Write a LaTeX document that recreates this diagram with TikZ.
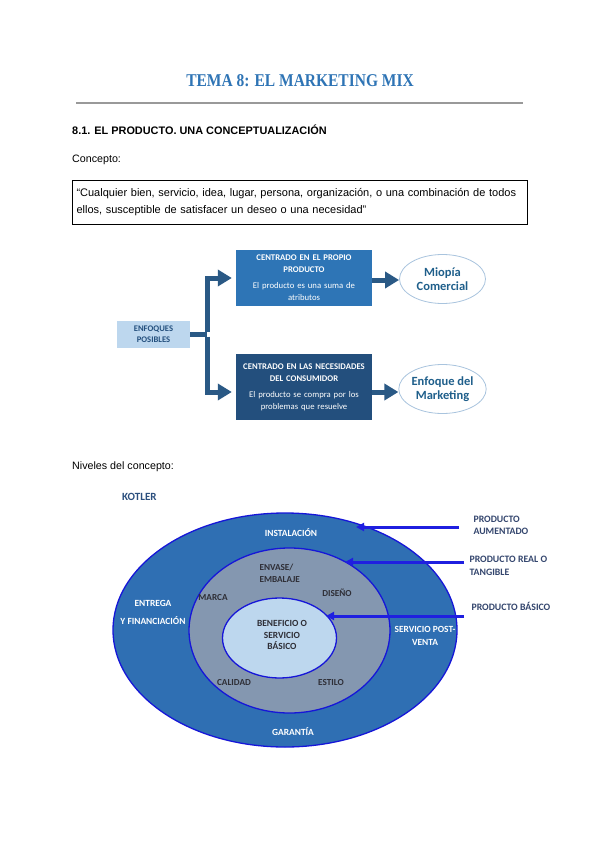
\documentclass[tikz,border=0pt]{standalone}
\usepackage{fontspec}
\setmainfont{Liberation Sans}
\newfontfamily\cfont{Carlito}
\newfontfamily\tfont{Liberation Serif}
\usetikzlibrary{arrows.meta,shapes.geometric}
\definecolor{titleblue}{HTML}{2E74B5}
\definecolor{paleblue}{HTML}{BDD7EE}
\definecolor{midblue}{HTML}{2E75B6}
\definecolor{deepblue}{HTML}{234F7D}
\definecolor{forkblue}{HTML}{2A5985}
\definecolor{elltext}{HTML}{1F5F8B}
\definecolor{ellline}{HTML}{A9C4DE}
\definecolor{outerfill}{HTML}{2F6FB3}
\definecolor{midfill}{HTML}{8497B0}
\definecolor{ringline}{HTML}{1616D8}
\definecolor{arrowblue}{HTML}{1F1FE0}
\definecolor{labtext}{HTML}{34466E}
\definecolor{innertext}{HTML}{2E2E36}
\definecolor{kotlerc}{HTML}{2B4F7E}
\begin{document}
\begin{tikzpicture}[x=1pt,y=-1pt,
  fbox/.style={minimum width=136pt, inner sep=1pt, text=white, align=center, text width=134pt,
    font=\cfont\fontsize{8.7}{12}\selectfont},
  oval/.style={ellipse, draw=ellline, line width=0.8pt, fill=white, minimum width=86pt, minimum height=49pt,
    inner sep=0pt, align=center, text=elltext, font=\cfont\bfseries\fontsize{12.5}{13.5}\selectfont},
  fork/.style={draw=forkblue, line width=5pt},
  forkarrow/.style={fork, -{Triangle[length=14pt,width=16pt]}, shorten >=4pt},
  ring/.style={ellipse, draw=ringline, line width=1.3pt, inner sep=0pt},
  wlab/.style={text=white, align=center, font=\cfont\bfseries\fontsize{9.4}{13}\selectfont},
  dlab/.style={text=innertext, align=center, font=\cfont\bfseries\fontsize{9.2}{12.5}\selectfont},
  rlab/.style={anchor=west, text=labtext, align=left, font=\cfont\bfseries\fontsize{9.8}{12.5}\selectfont},
  barrow/.style={draw=arrowblue, line width=3pt, -{Triangle[length=8pt,width=8pt]}}
]
\useasboundingbox (0,0) rectangle (600,848);
\fill[white] (0,0) rectangle (600,848);

% header
\node[text=titleblue, font=\tfont\bfseries\fontsize{18}{20}\selectfont] (title) at (300,81) {\scalebox{0.86}[1]{TEMA 8: EL MARKETING MIX}};
\draw[gray!80, line width=1.2pt] (76,103) -- (523,103);
\node[anchor=west, inner sep=0pt, font=\bfseries\fontsize{10.9}{12}\selectfont] (h81) at (72,130) {8.1. EL PRODUCTO. UNA CONCEPTUALIZACIÓN};
\node[anchor=west, inner sep=0pt, font=\fontsize{10.7}{12}\selectfont] (concepto) at (72,160) {Concepto:};
\node[draw, line width=1pt, anchor=north west, text width=447pt, inner xsep=4pt, inner ysep=4.5pt,
  minimum height=44pt, align=left, font=\fontsize{11}{17}\selectfont] (quote) at (72,180)
  {“Cualquier bien, servicio, idea, lugar, persona, organización, o una combinación de todos\\ellos, susceptible de satisfacer un deseo o una necesidad”};

% flowchart
\node[fill=paleblue, minimum width=73pt, minimum height=27pt, inner sep=0pt, align=center, text=deepblue,
  font=\cfont\bfseries\fontsize{8.6}{11}\selectfont] (enf) at (153.5,334) {ENFOQUES\\POSIBLES};
\node[fbox, fill=midblue, minimum height=56pt] (b1) at (304,278)
  {\textbf{CENTRADO EN EL PROPIO}\\\textbf{PRODUCTO}\\[4pt]El producto es una suma de\\atributos};
\node[fbox, fill=deepblue, minimum height=66pt] (b2) at (304,387)
  {\textbf{CENTRADO EN LAS NECESIDADES}\\\textbf{DEL CONSUMIDOR}\\[4pt]El producto se compra por los\\problemas que resuelve\\[2pt]};
\node[oval] (e1) at (442.5,279) {Miopía\\Comercial};
\node[oval] (e2) at (442.5,389) {Enfoque del\\Marketing};
\coordinate (fk) at (207,334);
\coordinate (b2w) at ([yshift=-5pt]b2.west);
\coordinate (b2e) at ([yshift=-5pt]b2.east);
\coordinate (b1e) at ([yshift=-2pt]b1.east);
\draw[fork] (enf.east) -- (fk);
\draw[forkarrow] ([yshift=2.5pt]fk) |- (b1.west);
\draw[forkarrow] ([yshift=-2.5pt]fk) |- (b2w);
\draw[draw=forkblue, line width=5pt, -{Triangle[length=14pt,width=16pt]}] (b1e) -- (e1.west |- b1e);
\draw[draw=forkblue, line width=5pt, -{Triangle[length=14pt,width=16pt]}] (b2e) -- (e2.west |- b2e);

% levels
\node[anchor=west, inner sep=0pt, font=\fontsize{10.7}{12}\selectfont] (niveles) at (72,467) {Niveles del concepto:};
\node[anchor=west, inner sep=0pt, text=kotlerc, font=\cfont\bfseries\fontsize{11}{12}\selectfont] (kotler) at (122,497) {KOTLER};

\node[ring, fill=outerfill, minimum width=344pt, minimum height=234pt] (outer) at (285,630) {};
\node[ring, fill=midfill, minimum width=201pt, minimum height=165pt] (mid) at (289.5,630.5) {};
\node[ring, fill=paleblue, minimum width=114pt, minimum height=80pt] (inner) at (279.5,638) {};

\node[wlab] (inst) at (291,533) {INSTALACIÓN};
\node[wlab] (entrega) at (153,612) {ENTREGA\\[5pt]Y FINANCIACIÓN};
\node[wlab] (post) at (425,636) {SERVICIO POST-\\VENTA};
\node[wlab] (gar) at (293,732) {GARANTÍA};
\node[dlab, align=left, anchor=west] (envase) at (256,573.5) {ENVASE/\\EMBALAJE};
\node[dlab] (marca) at (213,598) {MARCA};
\node[dlab] (diseno) at (337,593) {DISEÑO};
\node[dlab, font=\cfont\bfseries\fontsize{9.4}{11.5}\selectfont] (benef) at (282,635) {BENEFICIO O\\SERVICIO\\BÁSICO};
\node[dlab] (calidad) at (234,683) {CALIDAD};
\node[dlab] (estilo) at (331,683) {ESTILO};

\node[rlab] (l1) at (470,525.5) {PRODUCTO\\AUMENTADO};
\node[rlab] (l2) at (466,566) {PRODUCTO REAL O\\TANGIBLE};
\node[rlab] (l3) at (468,606.5) {PRODUCTO BÁSICO};
\coordinate (s1) at (459,527);  \coordinate (t1) at (356,527);
\coordinate (s2) at (464,562);  \coordinate (t2) at (345,562);
\coordinate (s3) at (464,616);  \coordinate (t3) at (326,616);
\draw[barrow] (s1) -- (t1);
\draw[barrow] (s2) -- (t2);
\draw[barrow] (s3) -- (t3);
\end{tikzpicture}
\end{document}
